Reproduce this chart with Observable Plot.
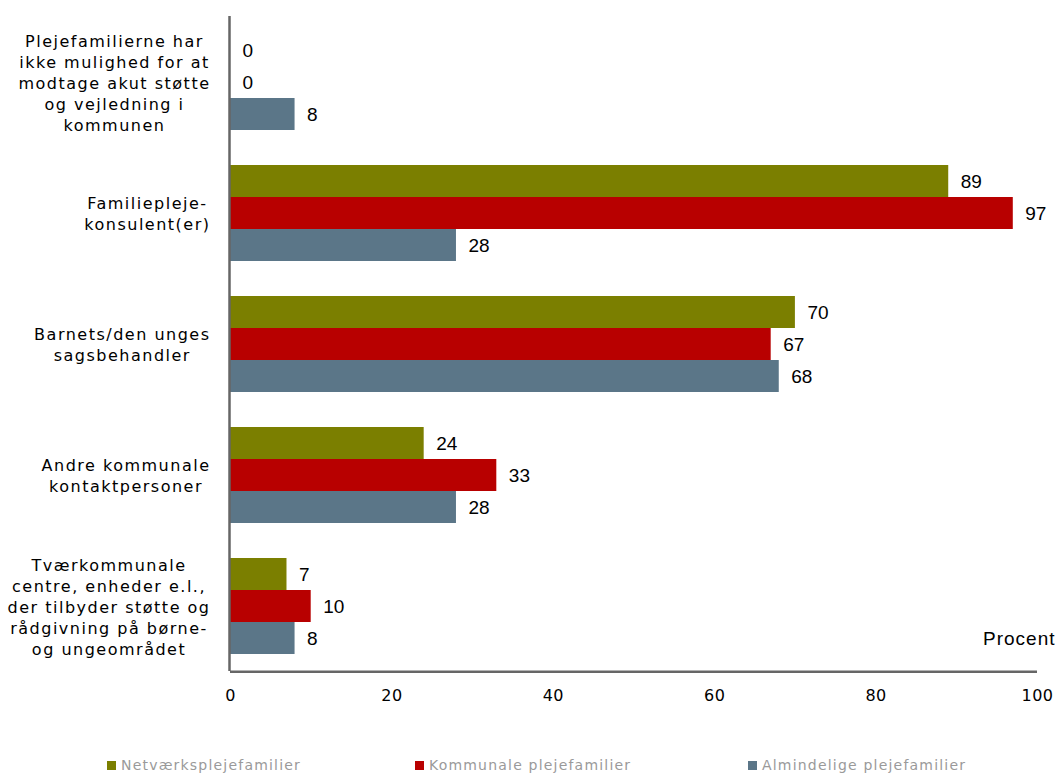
<!DOCTYPE html>
<html>
<head>
<meta charset="utf-8">
<script src="https://cdn.jsdelivr.net/npm/d3@7"></script>
<script src="https://cdn.jsdelivr.net/npm/@observablehq/plot@0.6"></script>
<style>
  html, body { margin: 0; padding: 0; background: #fff; overflow: hidden; }
  #wrap { position: relative; width: 1057px; height: 773px; }
  g[font-family="DejaVu Sans, sans-serif"] text { letter-spacing: 1.5px; }
  g[font-family="Liberation Sans, Arial"] text { letter-spacing: 1px; }
  g[aria-label="x-axis tick label"] text { letter-spacing: 0.5px; }
  #legend { position: absolute; top: 757px; left: 0; width: 1057px; height: 16px;
    font: 14px "DejaVu Sans", sans-serif; color: #9a9a9a; letter-spacing: 1.2px; line-height: 16px; }
  .item { position: absolute; top: 0; white-space: nowrap; }
  .sw { display: inline-block; width: 9px; height: 9px; margin-right: 5px; vertical-align: 0px; }
</style>
</head>
<body>
<div id="wrap">
  <div id="chart"></div>
  <div id="legend"></div>
</div>
<script>
// ---- Data ----
const categories = [
  "Plejefamilierne har ikke mulighed for at modtage akut støtte og vejledning i kommunen",
  "Familiepleje-konsulent(er)",
  "Barnets/den unges sagsbehandler",
  "Andre kommunale kontaktpersoner",
  "Tværkommunale centre, enheder e.l., der tilbyder støtte og rådgivning på børne- og ungeområdet"
];
const categoryLabels = [
  "Plejefamilierne har\nikke mulighed for at\nmodtage akut støtte\nog vejledning i\nkommunen",
  "Familiepleje-\nkonsulent(er)",
  "Barnets/den unges\nsagsbehandler",
  "Andre kommunale\nkontaktpersoner",
  "Tværkommunale\ncentre, enheder e.l.,\nder tilbyder støtte og\nrådgivning på børne-\nog ungeområdet"
];
const series = ["Netværksplejefamilier", "Kommunale plejefamilier", "Almindelige plejefamilier"];
const netvaerk    = [0, 89, 70, 24, 7];
const kommunale   = [0, 97, 67, 33, 10];
const almindelige = [8, 28, 68, 28, 8];
const xTicks = [0, 20, 40, 60, 80, 100];
const colors = ["#7b7f00", "#b80000", "#5b7688"];
const axisTitle = "Procent";

// ---- Build table ----
const seriesValues = [netvaerk, kommunale, almindelige];
const data = [];
categories.forEach((c, i) => {
  series.forEach((s, j) => data.push({category: c, series: s, value: seriesValues[j][i]}));
});

// ---- Layout ----
const W = 1057, H = 720, mT = 15, mB = 48, mL = 230, mR = 20;
const PO = 0.53;
const facetH = (H - mT - mB) / categories.length;
const step = facetH / (series.length + 2 * PO);
const bottomDy = PO * step + step / 2;

// measure label widths for right-aligned, centre-justified blocks
const ctx = document.createElement("canvas").getContext("2d");
ctx.font = "16px 'DejaVu Sans'";
const labelWidth = (lbl) => d3.max(lbl.split("\n"), l => ctx.measureText(l).width + 1.5 * l.length);

const labelMarks = categories.map((c, i) => Plot.text([c], {
  fy: d => d,
  text: () => categoryLabels[i],
  frameAnchor: "left",
  textAnchor: "middle",
  dx: -(20 + labelWidth(categoryLabels[i]) / 2),
  lineHeight: 21 / 16,
  fontSize: 16,
  fontFamily: "DejaVu Sans, sans-serif",
  fill: "#000"
}));

const chart = Plot.plot({
  width: W, height: H,
  marginLeft: mL, marginRight: mR, marginTop: mT, marginBottom: mB,
  style: {background: "#fff", color: "#000"},
  x: {domain: [0, 100]},
  y: {domain: series, paddingInner: 0, paddingOuter: PO, axis: null},
  fy: {domain: categories, padding: 0, axis: null},
  color: {domain: series, range: colors},
  marks: [
    Plot.barX(data, {x: "value", y: "series", fy: "category", fill: "series"}),
    Plot.text(data, {
      x: "value", y: "series", fy: "category", text: d => String(d.value),
      textAnchor: "start", dx: 12, fontSize: 19, fontFamily: "Liberation Sans", fill: "#000"
    }),
    Plot.ruleX([0], {stroke: "#666", strokeWidth: 2.5, dx: -1}),
    Plot.ruleY([{category: categories[categories.length - 1], series: series[series.length - 1]}], {
      y: "series", fy: "category", x1: 0, x2: 100, dy: bottomDy, stroke: "#666", strokeWidth: 2.5
    }),
    Plot.text([axisTitle], {
      fy: () => categories[categories.length - 1], text: d => d,
      frameAnchor: "bottom-right", textAnchor: "end", dx: 18, dy: -27,
      fontSize: 19, fontFamily: "Liberation Sans, Arial", fill: "#000"
    }),
    ...labelMarks,
    Plot.axisX(xTicks, {
      tickSize: 0, tickPadding: 18, label: null, fontSize: 16, fontFamily: "DejaVu Sans", fill: "#000"
    })
  ]
});
document.getElementById("chart").appendChild(chart);

// ---- Legend ----
const legendX = [107, 415, 748];
const legend = d3.select("#legend");
series.forEach((s, j) => {
  const it = legend.append("div").attr("class", "item").style("left", legendX[j] + "px");
  it.append("span").attr("class", "sw").style("background", colors[j]);
  it.append("span").text(s);
});
</script>
</body>
</html>
